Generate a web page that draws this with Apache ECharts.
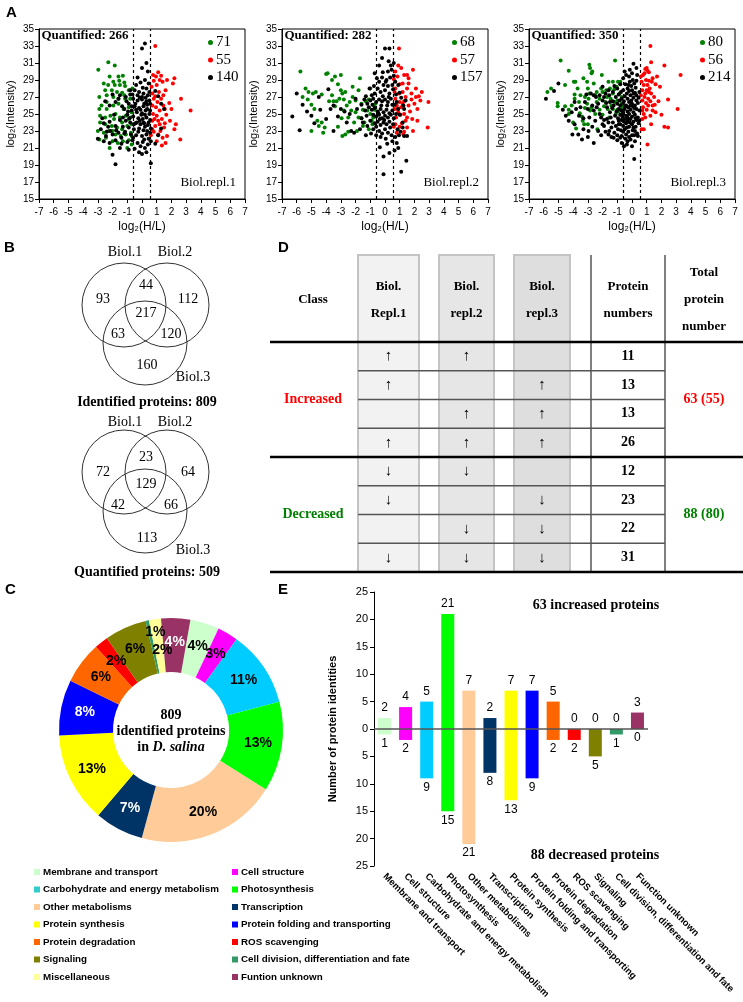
<!DOCTYPE html>
<html><head><meta charset="utf-8">
<script src="https://cdn.jsdelivr.net/npm/echarts/dist/echarts.min.js"></script>
<style>html,body{margin:0;padding:0;background:#fff}#c{width:743px;height:1002px}</style>
</head><body><div id="c"></div>
<script>
// ---------- Panel A data: log2(H/L), log2(Intensity) ----------
const scatterNames = [['71','55','140'],['68','57','157'],['80','56','214']];
const thresholds = [-0.585, 0.585];
const g1 = [[-2.97,30.2],[-2.29,31.1],[-1.85,30.7],[-2.2,29.4],[-1.6,29.4],[-1.3,29.5],[-1.95,28.8],[-1.55,28.9],[-1.2,28.7],[-2.6,28.6],[-2.3,28.4],[-1.85,28.4],[-1.5,28.4],[-1.15,28.3],[-2.5,27.8],[-2.05,27.8],[-1.7,27.6],[-1.35,27.5],[-0.9,27.8],[-2.9,27.0],[-2.4,27.2],[-1.95,27.0],[-1.6,26.8],[-1.15,26.8],[-0.8,26.8],[-2.75,26.0],[-2.4,25.6],[-1.95,26.0],[-1.6,26.2],[-1.25,25.6],[-0.9,25.8],[-2.85,24.8],[-2.5,24.6],[-2.15,24.8],[-1.8,25.0],[-1.5,24.6],[-1.1,24.8],[-0.8,24.6],[-2.85,24.0],[-2.5,23.8],[-2.05,23.6],[-1.7,23.4],[-1.35,23.2],[-1.0,23.6],[-0.7,23.8],[-3.0,23.0],[-2.6,22.8],[-2.25,23.0],[-1.8,22.6],[-1.45,22.4],[-1.1,22.6],[-0.75,22.8],[-2.9,22.0],[-2.45,22.2],[-2.0,21.8],[-1.65,21.6],[-1.3,21.8],[-0.9,21.9],[-2.2,21.0],[-1.0,21.0],[-0.7,21.4],[-0.7,22.4],[-1.35,24.0],[-0.9,24.4],[-0.7,25.2],[-1.9,24.4],[-2.4,26.4],[-2.9,25.6],[-1.2,27.2],[-0.65,28.0],[-2.0,23.0]];
const r1 = [[0.9,33.0],[0.75,29.6],[0.95,29.4],[1.1,29.9],[1.3,29.5],[1.2,29.0],[0.8,28.9],[1.4,28.8],[1.0,28.4],[0.7,27.4],[0.9,27.1],[1.15,27.6],[1.45,27.2],[0.8,26.8],[1.05,26.4],[1.3,26.8],[0.7,26.0],[0.95,25.8],[1.2,25.4],[1.55,25.6],[0.75,25.0],[1.0,24.8],[1.35,24.4],[1.65,24.9],[0.7,24.2],[0.9,23.6],[1.2,23.8],[1.5,23.4],[0.8,22.9],[1.1,22.6],[1.4,22.2],[1.7,22.4],[1.35,21.3],[0.6,22.5],[2.2,29.2],[2.1,28.6],[2.65,26.8],[3.3,25.4],[2.0,25.6],[2.3,23.8],[2.2,23.2],[2.6,22.0],[1.85,26.3],[1.9,24.2],[1.6,27.8],[1.7,29.0],[0.65,28.2],[1.45,26.0],[1.1,24.2],[0.85,24.4],[1.25,23.0],[1.55,23.9],[0.7,23.2],[1.0,21.8],[1.6,21.6]];
const k1 = [[0.2,33.3],[0.0,32.7],[0.3,31.0],[0.0,30.4],[0.4,30.0],[-0.3,29.3],[0.2,29.0],[0.45,28.6],[-0.5,27.8],[-0.2,27.6],[0.1,27.4],[0.4,27.2],[-0.8,27.3],[-1.1,27.0],[-1.5,27.2],[-2.0,27.3],[-2.5,26.5],[-2.2,26.0],[-1.8,26.4],[-0.6,26.8],[-0.3,26.6],[0.0,26.7],[0.3,26.5],[0.55,26.2],[-0.9,26.2],[-0.5,25.9],[-0.2,25.7],[0.1,25.9],[0.35,25.6],[-1.2,25.6],[-0.7,25.4],[-0.35,25.2],[0.0,25.1],[0.2,24.9],[0.5,25.0],[-1.0,24.9],[-0.6,24.7],[-0.25,24.5],[0.05,24.4],[0.3,24.6],[0.55,24.3],[-1.5,24.3],[-1.1,24.2],[-0.8,24.0],[-0.45,23.9],[-0.1,23.8],[0.15,23.9],[0.4,23.7],[-2.6,23.9],[-2.3,23.5],[-1.8,23.6],[-1.3,23.5],[-0.9,23.4],[-0.55,23.2],[-0.2,23.3],[0.1,23.1],[0.35,23.0],[0.6,23.3],[-2.8,23.2],[-2.4,22.9],[-2.0,22.6],[-1.6,22.8],[-1.2,22.7],[-0.75,22.6],[-0.4,22.5],[0.0,22.4],[0.3,22.6],[0.55,22.8],[1.1,22.5],[1.3,23.3],[1.5,25.6],[1.3,26.2],[1.1,27.1],[0.9,27.7],[-3.0,22.1],[-2.6,21.8],[-2.2,21.6],[-1.8,21.9],[-1.4,21.5],[-1.0,21.7],[-0.65,21.9],[-0.3,21.6],[0.05,21.7],[0.4,21.4],[-0.5,20.9],[-0.2,20.5],[0.0,20.3],[0.2,21.0],[-2.0,20.2],[-1.8,19.1],[0.6,19.2],[-1.5,21.0],[-0.9,20.8],[-0.35,24.0],[-0.05,24.9],[0.25,25.4],[-0.45,26.2],[-0.15,26.9],[0.15,26.2],[-0.7,25.9],[-0.95,25.3],[-1.35,25.9],[-1.6,26.8],[-1.9,24.9],[-2.2,24.1],[-0.8,27.8],[-0.4,28.4],[0.05,28.1],[-0.1,28.7],[0.3,28.0],[0.5,27.6],[0.45,24.0],[0.55,25.4],[-0.25,22.9],[-0.55,23.8],[-0.85,24.5],[-1.15,22.9],[-1.4,22.2],[-1.75,23.1],[-2.15,23.0],[-2.45,22.4],[0.2,23.5],[0.45,22.1],[0.6,21.8],[0.3,20.5],[-0.1,21.2],[-0.3,27.2],[0.0,27.0],[0.25,26.9],[-1.3,24.6],[-1.05,26.5],[-0.65,27.3],[-0.1,25.5],[0.1,24.0],[-0.4,25.5],[0.35,26.1],[-0.15,24.2],[0.5,26.6],[-0.6,22.2],[0.15,22.0],[-2.7,24.5],[0.9,21.5]];
const g2 = [[-5.75,30.0],[-5.4,28.0],[-5.6,27.0],[-5.2,27.6],[-4.9,27.4],[-4.7,27.6],[-5.25,26.7],[-5.0,26.1],[-5.0,23.0],[-4.5,23.6],[-4.3,24.0],[-4.2,22.8],[-4.1,23.4],[-4.0,29.7],[-3.9,29.8],[-3.6,29.0],[-3.4,29.4],[-3.0,29.6],[-3.2,28.5],[-3.5,26.5],[-3.3,26.5],[-3.0,27.8],[-2.9,27.4],[-3.1,26.8],[-2.8,26.7],[-2.95,24.5],[-3.2,23.5],[-2.9,22.4],[-2.7,22.6],[-2.5,22.9],[-2.6,26.0],[-2.4,26.4],[-2.2,27.0],[-2.0,26.6],[-2.3,25.4],[-2.0,25.2],[-1.8,24.6],[-1.6,24.5],[-1.9,23.0],[-1.7,29.2],[-1.5,25.5],[-1.3,26.5],[-1.1,26.7],[-1.2,25.4],[-1.0,25.0],[-0.9,24.2],[-1.1,23.2],[-0.85,23.8],[-0.7,25.5],[-0.65,26.2],[-1.4,24.0],[-1.6,26.2],[-2.1,24.0],[-2.5,24.6],[-3.8,26.5],[-4.6,24.2],[-4.8,25.6],[-2.7,27.6],[-1.0,28.0],[-0.75,26.0],[-3.6,27.2],[-3.4,25.9],[-2.2,28.2],[-1.8,27.8],[-4.3,27.3],[-1.5,23.6],[-0.8,24.6],[-2.8,25.4]];
const r2 = [[0.95,32.7],[0.9,30.7],[1.1,30.4],[0.6,29.1],[0.85,29.4],[1.3,29.6],[1.5,29.6],[1.6,29.2],[1.9,30.2],[1.2,28.6],[0.7,28.0],[0.95,27.4],[1.2,27.6],[1.5,28.0],[1.8,27.4],[2.1,27.0],[2.5,27.6],[2.3,27.1],[2.95,26.4],[0.7,26.8],[1.0,26.4],[1.3,26.5],[1.6,26.0],[0.8,26.0],[1.1,25.8],[0.65,25.6],[0.9,25.2],[1.3,25.0],[2.0,26.2],[2.2,25.6],[1.5,24.6],[1.85,24.4],[2.2,24.2],[1.4,24.2],[0.7,23.8],[1.0,23.5],[1.3,22.9],[1.5,23.4],[0.8,22.8],[2.9,23.4],[1.9,23.0],[0.75,24.6],[1.05,24.9],[0.6,23.5],[1.7,25.3],[1.2,26.2],[2.4,26.6],[0.65,27.6],[1.0,28.5],[1.4,27.0],[0.85,25.6],[1.15,23.9],[1.6,28.6],[2.1,28.0],[0.7,30.0],[1.25,22.6],[1.8,26.7]];
const k2 = [[-6.3,24.7],[-6.0,27.4],[-5.8,23.1],[-5.6,26.1],[-5.3,25.3],[-4.8,23.9],[-4.4,25.5],[-3.85,27.9],[-3.7,25.6],[-3.5,26.0],[-3.5,23.0],[-3.0,25.6],[-2.75,25.3],[-2.3,23.0],[-2.1,22.8],[-1.9,25.6],[-1.6,24.5],[-1.3,22.5],[-0.1,17.9],[-0.1,20.0],[0.0,32.7],[0.3,32.7],[-0.4,30.7],[0.4,30.7],[1.45,19.5],[1.1,18.2],[0.9,21.0],[0.65,20.7],[1.3,22.4],[1.5,22.4],[-1.4,26.7],[-1.2,26.2],[-1.0,26.6],[-0.8,26.8],[-0.6,26.4],[-0.4,26.7],[-0.2,26.5],[0.0,26.7],[0.2,26.4],[0.4,26.8],[-1.1,25.8],[-0.9,25.5],[-0.7,25.7],[-0.5,25.3],[-0.3,25.6],[-0.1,25.2],[0.1,25.5],[0.3,25.1],[0.5,25.4],[-0.8,24.9],[-0.6,24.7],[-0.4,24.9],[-0.2,24.5],[0.0,24.8],[0.2,24.6],[0.4,24.9],[0.6,24.5],[-1.0,24.2],[-0.7,23.9],[-0.5,24.1],[-0.3,23.7],[-0.1,24.0],[0.1,23.8],[0.3,24.1],[0.55,23.8],[-1.2,23.6],[-0.8,23.2],[-0.4,23.0],[-0.2,22.7],[0.0,23.2],[0.2,22.8],[0.45,22.5],[-0.3,22.3],[0.05,22.1],[0.5,21.8],[0.7,22.3],[0.8,21.6],[-0.4,28.8],[-0.2,29.3],[0.1,29.0],[0.35,29.3],[0.5,28.4],[-0.5,28.0],[-0.3,27.6],[0.0,27.8],[0.3,27.4],[0.55,27.9],[-0.7,27.4],[-0.9,27.2],[0.2,28.3],[-0.1,28.4],[0.45,30.2],[0.2,30.0],[-0.15,29.9],[0.6,29.5],[0.7,28.8],[0.75,27.3],[0.8,26.4],[0.9,25.6],[1.0,24.9],[1.2,24.0],[1.3,25.6],[1.4,26.6],[1.1,26.9],[0.85,23.2],[1.05,22.9],[1.2,23.4],[-1.5,24.0],[-1.7,23.2],[-1.3,27.1],[-1.6,26.1],[-2.0,26.8],[-2.4,25.0],[-2.6,24.0],[-3.2,24.7],[-4.0,24.4],[-4.5,27.0],[-5.0,24.8],[-0.95,22.7],[-0.6,22.5],[-0.75,28.3],[-1.05,28.0],[-0.55,29.2],[0.65,26.1],[0.75,25.0],[-0.25,26.0],[0.15,26.0],[-0.45,25.1],[-0.05,24.3],[0.35,23.4],[-0.6,23.5],[-0.85,26.1],[0.25,27.0],[-0.15,27.1],[0.05,28.8],[-0.35,24.4],[0.5,26.1],[-1.25,24.8],[-1.35,25.4],[0.15,21.5],[-0.35,21.1],[0.3,20.4],[0.95,22.5],[1.25,26.0],[1.0,27.5],[0.9,28.4],[-0.7,29.8],[0.25,31.2],[-0.2,31.6],[0.6,31.0]];
const g3 = [[-5.75,27.6],[-5.5,28.0],[-4.85,31.3],[-5.05,26.3],[-5.05,25.9],[-4.55,25.9],[-4.3,25.5],[-4.3,25.0],[-4.3,30.1],[-3.95,28.8],[-3.85,28.8],[-3.9,27.3],[-3.9,26.8],[-3.7,28.0],[-3.8,23.3],[-3.55,25.1],[-3.4,24.7],[-3.35,24.2],[-3.25,23.8],[-3.05,28.8],[-2.9,30.8],[-2.85,30.4],[-2.7,30.0],[-2.75,29.8],[-3.0,28.0],[-2.9,27.4],[-2.95,26.8],[-3.05,26.2],[-3.2,25.7],[-2.85,25.4],[-2.5,27.2],[-2.4,27.6],[-2.1,28.0],[-2.0,27.6],[-2.2,26.8],[-2.4,26.4],[-2.75,25.8],[-2.5,25.0],[-1.8,26.4],[-1.7,27.0],[-1.5,28.0],[-1.6,28.8],[-1.3,28.8],[-0.95,28.8],[-1.05,28.2],[-1.3,27.4],[-1.45,26.8],[-1.2,26.4],[-0.85,27.4],[-1.65,25.6],[-1.3,25.6],[-1.0,25.5],[-0.75,25.6],[-0.6,25.9],[-1.15,31.3],[-0.8,28.8],[-0.7,26.2],[-0.9,25.3],[-1.1,25.0],[-1.4,26.0],[-1.9,25.9],[-2.2,25.5],[-3.6,26.4],[-4.0,24.0],[-3.2,27.0],[-2.0,24.9],[-1.75,27.8],[-2.6,28.6],[-4.55,28.4],[-3.5,27.2],[-0.7,27.0],[-1.55,24.6],[-2.35,23.2],[-3.0,23.8],[-0.65,24.4],[-1.0,26.6],[-4.1,26.0],[-3.3,29.2],[-2.05,29.6],[-1.2,27.9]];
const r3 = [[1.25,33.0],[1.3,31.1],[0.9,30.3],[1.05,30.1],[1.15,29.9],[1.0,30.4],[2.2,30.7],[0.75,29.6],[0.6,29.4],[1.4,29.2],[1.15,28.9],[1.35,28.8],[1.6,28.5],[0.8,28.4],[1.05,28.4],[3.3,29.6],[0.7,27.8],[0.9,27.4],[1.15,27.6],[1.3,27.4],[0.6,27.2],[0.85,27.0],[1.1,26.8],[0.7,26.6],[0.95,26.3],[1.25,26.5],[1.55,26.1],[2.45,26.7],[1.8,26.5],[0.75,25.8],[1.0,25.5],[1.4,25.4],[1.6,25.2],[3.1,25.6],[2.0,24.9],[0.7,24.4],[0.8,23.2],[2.2,23.5],[2.45,23.4],[1.05,21.4],[0.65,23.2],[1.2,28.0],[0.95,29.0],[1.4,26.0],[1.0,27.8],[0.8,25.0],[1.25,24.8],[0.65,28.8],[1.5,27.0],[0.85,29.8],[1.7,29.4],[1.1,26.0],[0.7,25.4],[1.3,23.8],[0.9,24.6],[1.9,28.2]];
const k3 = [[-5.85,26.8],[-5.0,28.6],[-4.1,25.2],[-4.05,22.6],[-3.9,26.4],[-3.65,22.6],[-3.3,23.2],[-2.95,23.0],[-2.6,21.6],[-2.3,23.0],[0.1,30.9],[0.15,19.7],[-0.55,21.2],[-0.35,21.4],[-4.3,24.2],[-3.9,23.8],[-3.5,25.8],[-3.2,26.4],[-3.0,25.6],[-2.8,27.4],[-2.6,27.2],[-2.7,26.0],[-2.4,25.8],[-2.2,27.2],[-2.0,26.6],[-1.8,27.4],[-2.5,24.2],[-2.1,24.6],[-1.9,23.6],[-1.7,24.4],[-1.5,25.2],[-1.3,24.0],[-1.1,23.6],[-1.6,22.6],[-1.4,22.3],[-1.2,22.8],[-1.0,22.5],[-0.8,22.2],[-0.6,22.9],[-0.4,22.6],[-0.2,22.3],[0.0,22.5],[0.2,23.0],[-1.5,26.4],[-1.25,26.0],[-1.0,26.2],[-0.8,26.0],[-0.6,26.3],[-0.4,26.0],[-0.2,26.4],[0.0,26.2],[0.2,26.0],[0.4,26.3],[-0.9,25.6],[-0.7,25.4],[-0.5,25.6],[-0.3,25.3],[-0.1,25.5],[0.1,25.2],[0.3,25.6],[-0.8,24.9],[-0.6,25.0],[-0.4,24.8],[-0.2,25.0],[0.0,24.7],[0.2,24.9],[0.4,24.6],[-0.7,24.3],[-0.5,24.4],[-0.3,24.2],[-0.1,24.4],[0.1,24.1],[0.3,24.3],[-0.9,23.8],[-0.6,23.6],[-0.4,23.9],[-0.2,23.5],[0.0,23.8],[0.25,23.5],[0.45,23.9],[-0.75,23.1],[-0.5,23.2],[-0.25,22.9],[0.05,23.1],[-1.1,27.0],[-0.9,27.3],[-0.7,26.8],[-0.5,27.1],[-0.3,26.8],[-0.1,27.2],[0.1,26.9],[0.3,27.2],[-0.6,27.8],[-0.3,28.0],[0.0,27.8],[0.25,28.1],[-0.45,28.5],[-0.15,28.8],[0.15,28.6],[-0.6,29.2],[-0.2,29.4],[0.05,29.0],[-0.4,29.6],[0.3,28.9],[-1.3,27.6],[-1.6,27.8],[-2.0,28.2],[-1.0,28.0],[-1.4,23.4],[-1.8,22.9],[-2.0,23.8],[-1.15,24.8],[-1.35,25.7],[-1.7,25.8],[-2.2,25.0],[-2.9,24.6],[-3.3,24.5],[-3.6,24.8],[-3.8,25.6],[-1.6,24.0],[-0.95,24.5],[0.35,22.7],[-0.1,22.0],[0.2,21.8],[-0.3,21.8],[-0.7,21.6],[-1.0,21.9],[0.5,24.2],[0.5,25.4],[0.45,26.9],[0.5,27.6],[0.35,29.6],[0.0,29.8],[-0.8,28.5],[-1.2,28.3],[-0.05,26.6],[-0.25,25.8],[-0.45,25.9],[0.15,25.7],[-0.65,24.7],[-0.15,24.0],[0.05,25.9],[-0.35,27.4],[-0.55,26.5],[-0.85,26.6],[0.2,27.5],[-0.05,28.3],[-0.95,23.2],[-0.35,23.4],[0.15,22.5],[-1.9,27.0],[-2.3,26.2],[-2.45,27.0],[-3.1,27.3],[-1.25,22.2],[-1.55,23.0],[-0.15,30.2],[-0.5,30.0],[0.3,30.4],[-1.05,25.3],[-1.45,24.6],[-1.9,24.3],[-2.7,23.5],[-0.7,22.4],[-1.75,26.3],[-2.6,25.4],[0.4,22.4],[0.0,21.2],[-0.55,24.1],[0.3,26.6],[-0.75,27.6],[-1.55,27.2],[-0.25,28.4],[0.1,27.4],[-0.9,24.2],[-0.45,22.1],[0.1,23.4],[-0.1,26.0],[-0.3,24.6],[-0.6,25.2],[0.25,24.5],[-0.2,27.7],[-0.8,23.8],[-1.3,26.5],[-2.1,22.5],[-3.0,22.3],[-4.5,24.8],[-4.7,25.5],[-5.3,27.7],[-3.4,22.0]];
const quantified = [266, 282, 350];
const replLabels = ['Biol.repl.1','Biol.repl.2','Biol.repl.3'];

// ---------- Panel B data ----------
const vennSetNames = ['Biol.1','Biol.2','Biol.3'];
// order: only1, only2, only3, 1&2, 1&3, 2&3, all
const venn1Counts = [93, 112, 160, 44, 63, 120, 217];
const venn2Counts = [72, 64, 113, 23, 42, 66, 129];
const vennTitles = ['Identified proteins: 809', 'Quantified proteins: 509'];

// ---------- Panel C data ----------
const pieNames = ['Membrane and transport','Cell structure','Carbohydrate and energy metabolism','Photosynthesis','Other metabolisms','Transcription','Protein synthesis','Protein folding and transporting','Protein degradation','ROS scavenging','Signaling','Cell division, differentiation and fate','Miscellaneous','Funtion unknown'];
const pieValues = [34, 24, 89, 105, 164, 57, 105, 65, 49, 16, 49, 4, 14, 34];
const pieLabels = ['4%','3%','11%','13%','20%','7%','13%','8%','6%','2%','6%','1%','2%','4%'];
const pieColors = ['#ccffcc','#ff00ff','#00ccff','#00ff00','#ffcc99','#003366','#ffff00','#0000ff','#ff6600','#ff0000','#808000','#339966','#ffff99','#993366'];
const pieLabelColors = ['#000','#000','#000','#000','#000','#fff','#000','#fff','#000','#000','#000','#000','#000','#fff'];

// ---------- Panel D data ----------
const tblHeaders = ['Class','Biol.\nRepl.1','Biol.\nrepl.2','Biol.\nrepl.3','Protein\nnumbers','Total\nprotein\nnumber'];
const incPattern = [[1,1,0],[1,0,1],[0,1,1],[1,1,1]];
const incCounts = [11, 13, 13, 26];
const decPattern = [[1,1,0],[1,0,1],[0,1,1],[1,1,1]];
const decCounts = [12, 23, 22, 31];
const classNames = ['Increased','Decreased'];
const classTotals = ['63 (55)','88 (80)'];

// ---------- Panel E data ----------
const barCats = ['Membrane and transport','Cell structure','Carbohydrate and energy metabolism','Photosynthesis','Other metabolisms','Transcription','Protein synthesis','Protein folding and transporting','Protein degradation','ROS scavenging','Signaling','Cell division, differentiation and fate','Function unknown'];
const incValues = [2, 4, 5, 21, 7, 2, 7, 7, 5, 0, 0, 0, 3];
const decValues = [1, 2, 9, 15, 21, 8, 13, 9, 2, 2, 5, 1, 0];
const barColors = ['#ccffcc','#ff00ff','#00ccff','#00ff00','#ffcc99','#003366','#ffff00','#0000ff','#ff6600','#ff0000','#808000','#339966','#993366'];
const yTicksE = [25,20,15,10,5,0,5,10,15,20,25];

// =====================================================
const SANS = '"Liberation Sans", Arial, sans-serif';
const SERIF = '"Liberation Serif", "Times New Roman", serif';
const G = [];
function txt(x, y, text, font, fill, align, valign, extra) {
  const st = {text: String(text), font: font, fill: fill || '#000',
    align: align || 'center', verticalAlign: valign || 'middle',
    textAlign: align || 'center', textVerticalAlign: valign || 'middle'};
  if (extra) Object.assign(st, extra);
  G.push({type: 'text', x: x, y: y, silent: true, z: 100, style: st});
}
function line(x1, y1, x2, y2, stroke, w, z) {
  G.push({type: 'line', silent: true, z: z || 50, shape: {x1, y1, x2, y2}, style: {stroke: stroke, lineWidth: w}});
}
function rect(x, y, w, h, fill, stroke, lw, z) {
  G.push({type: 'rect', silent: true, z: z || 10, shape: {x, y, width: w, height: h}, style: {fill: fill, stroke: stroke || null, lineWidth: lw || 0}});
}

// panel letters
const LF = 'bold 15px ' + SANS;
txt(6, 13, 'A', LF, '#000', 'left');
txt(4, 248, 'B', LF, '#000', 'left');
txt(5, 590, 'C', LF, '#000', 'left');
txt(278, 248, 'D', LF, '#000', 'left');
txt(278, 590, 'E', LF, '#000', 'left');

// ---------- Panel A layout ----------
const gridLefts = [39, 282, 529];
const GT = 29, GW = 206, GH = 170;
const scatterSets = [[g1, r1, k1], [g2, r2, k2], [g3, r3, k3]];
const dotColors = ['#008000', '#ff0000', '#000000'];
gridLefts.forEach((L, i) => {
  txt(L + 2.5, 36, 'Quantified: ' + quantified[i], 'bold 13px ' + SERIF, '#000', 'left');
  txt(L + GW - 9, 183, replLabels[i], '13px ' + SERIF, '#000', 'right');
});

// ---------- Panel B (Venn) ----------
const vennDefs = [
  {counts: venn1Counts, title: vennTitles[0],
   circles: [[124,305],[167,305],[145,343]],
   pos: [[103,299],[188,299],[147,365],[146,285],[118,334],[171,334],[146,313]],
   names: [[125,252],[175,252],[193,377]], titlePos: [147,402]},
  {counts: venn2Counts, title: vennTitles[1],
   circles: [[124,472],[167,472],[145,511]],
   pos: [[103,472],[188,472],[147,538],[146,457],[118,505],[171,505],[146,484]],
   names: [[125,422],[175,422],[193,550]], titlePos: [147,572]}
];
vennDefs.forEach(v => {
  v.circles.forEach(c => G.push({type:'circle', silent:true, z:20, shape:{cx:c[0], cy:c[1], r:42}, style:{fill:'none', stroke:'#333', lineWidth:1}}));
  v.counts.forEach((n, i) => txt(v.pos[i][0], v.pos[i][1], n, '14px ' + SERIF));
  vennSetNames.forEach((n, i) => txt(v.names[i][0], v.names[i][1], n, '14px ' + SERIF));
  txt(v.titlePos[0], v.titlePos[1], v.title, 'bold 14px ' + SERIF);
});

// ---------- Panel C center text ----------
G.push({type:'text', x:171, y:731, silent:true, z:100, style:{
  text:'{b|809}\n{b|identified proteins}\n{b|in }{i|D. salina}',
  align:'center', verticalAlign:'middle', textAlign:'center', textVerticalAlign:'middle',
  rich:{b:{fontFamily:SERIF, fontWeight:'bold', fontSize:14, lineHeight:16, fill:'#000', color:'#000'},
        i:{fontFamily:SERIF, fontWeight:'bold', fontStyle:'italic', fontSize:14, lineHeight:16, fill:'#000', color:'#000'}}
}});

// ---------- Panel D (table) ----------
const colBoxes = [[358,419,'#f2f2f2'],[439,494,'#e6e6e6'],[514,570,'#dedede']];
const TT = 255, HB = 342, MID = 457, TB = 572, RH = 28.75;
colBoxes.forEach(b => rect(b[0], TT, b[1]-b[0], TB-TT, b[2], '#c4c4c4', 2, 10));
line(591, TT, 591, TB, '#555', 1.5);
line(665, TT, 665, TB, '#555', 1.5);
const colCenters = [313, 388.5, 466.5, 542, 628, 704];
const HF = 'bold 13px ' + SERIF;
tblHeaders.forEach((h, i) => txt(colCenters[i], 300, h, HF, '#000', 'center', 'middle', {lineHeight: 27}));
[HB, MID, TB].forEach(y => line(270, y, 743, y, '#000', 2.5, 60));
[[HB, incPattern, incCounts], [MID, decPattern, decCounts]].forEach((blk, bi) => {
  const y0 = blk[0];
  for (let r = 1; r < 4; r++) line(358, y0 + r*RH, 665, y0 + r*RH, '#555', 1.5, 55);
  blk[1].forEach((pat, r) => {
    const yc = y0 + (r + 0.5) * RH;
    pat.forEach((on, c) => { if (on) txt(colCenters[c+1], yc, bi === 0 ? '↑' : '↓', '15px ' + SERIF); });
    txt(colCenters[4], yc, blk[2][r], 'bold 14px ' + SERIF);
  });
  const col = bi === 0 ? '#ff0000' : '#008000';
  txt(colCenters[0], y0 + 2*RH, classNames[bi], 'bold 14px ' + SERIF, col);
  txt(colCenters[5], y0 + 2*RH, classTotals[bi], 'bold 14px ' + SERIF, col);
});

// ---------- Panel E texts ----------
txt(596, 605, '63 increased proteins', 'bold 14px ' + SERIF);
txt(595, 855, '88 decreased proteins', 'bold 14px ' + SERIF);

// =====================================================
const grids = gridLefts.map(L => ({left: L, top: GT, width: GW, height: GH, show: true, borderColor: '#000', borderWidth: 1, backgroundColor: 'transparent', outerBoundsMode: 'none'}));
grids.push({left: 374, top: 592, width: 274, height: 274, outerBoundsMode: 'none'});

const axisCommon = {
  axisLine: {show: true, onZero: false, lineStyle: {color: '#000', width: 1}},
  axisTick: {show: true, inside: false, length: 4, lineStyle: {color: '#000'}},
  splitLine: {show: false}
};
const xAxes = gridLefts.map((L, i) => Object.assign({}, axisCommon, {
  type: 'value', gridIndex: i, min: -7, max: 7, interval: 1,
  axisLabel: {fontSize: 10, color: '#000', fontFamily: SANS, margin: 8, showMinLabel: true, showMaxLabel: true},
  name: 'log₂(H/L)', nameLocation: 'middle', nameGap: 22,
  nameTextStyle: {fontSize: 12, color: '#000', fontFamily: SANS}
}));
const yAxes = gridLefts.map((L, i) => Object.assign({}, axisCommon, {
  type: 'value', gridIndex: i, min: 15, max: 35, interval: 2,
  axisLabel: {fontSize: 10, color: '#000', fontFamily: SANS, margin: 5, showMinLabel: true, showMaxLabel: true},
  name: 'log₂(Intensity)', nameLocation: 'middle', nameGap: 23, nameRotate: 90,
  nameTextStyle: {fontSize: 11, color: '#000', fontFamily: SANS}
}));
xAxes.push({
  type: 'category', gridIndex: 3, data: barCats,
  axisLine: {show: false, onZero: false}, axisTick: {show: false}, splitLine: {show: false},
  axisLabel: {interval: 0, rotate: -45, fontSize: 9.5, fontWeight: 'bold', color: '#000', fontFamily: SANS, margin: 9}
});
yAxes.push({
  type: 'value', gridIndex: 3, min: -25, max: 25, interval: 5,
  axisLine: {show: true, onZero: false, lineStyle: {color: '#000', width: 1}},
  axisTick: {show: true, inside: false, length: 4, lineStyle: {color: '#000'}},
  splitLine: {show: false},
  axisLabel: {fontSize: 11, color: '#000', fontFamily: SANS, margin: 6, showMinLabel: true, showMaxLabel: true,
    formatter: v => String(yTicksE[Math.round((25 - v) / 5)])},
  name: 'Number of protein identities', nameLocation: 'middle', nameRotate: 90, nameGap: 36,
  nameTextStyle: {fontSize: 11, fontWeight: 'bold', color: '#000', fontFamily: SANS}
});

const series = [];
scatterSets.forEach((sets, gi) => {
  sets.forEach((pts, si) => {
    const s = {type: 'scatter', name: scatterNames[gi][si], xAxisIndex: gi, yAxisIndex: gi,
      data: pts, symbol: 'circle', symbolSize: 4, itemStyle: {color: dotColors[si], opacity: 1},
      emphasis: {disabled: true}, silent: true, z: 5};
    if (si === 2) {
      s.markLine = {silent: true, symbol: ['none','none'], label: {show: false},
        lineStyle: {color: '#000', width: 1.2, type: [3, 3]},
        data: thresholds.map(t => ({xAxis: t}))};
    }
    series.push(s);
  });
});

series.push({
  type: 'pie', name: 'classes', center: [171, 730], radius: [58, 112], startAngle: 80, clockwise: true,
  avoidLabelOverlap: false, silent: true, emphasis: {disabled: true},
  data: pieNames.map((n, i) => ({name: n, value: pieValues[i], itemStyle: {color: pieColors[i]},
    label: {color: pieLabelColors[i]}})),
  label: {show: true, position: 'inside', formatter: p => pieLabels[p.dataIndex],
    fontSize: 14, fontWeight: 'bold', fontFamily: SANS},
  labelLine: {show: false},
  labelLayout: p => {
    if (p.dataIndex === 11) return {dx: 3, dy: -12};
    if (p.dataIndex === 12) return {dx: 4, dy: 7};
    return {};
  }
});

series.push({
  type: 'bar', name: 'increased', xAxisIndex: 3, yAxisIndex: 3, barWidth: 13, barGap: '-100%',
  silent: true, emphasis: {disabled: true},
  data: incValues.map((v, i) => ({value: v, itemStyle: {color: barColors[i]}})),
  label: {show: true, position: 'top', distance: 4, fontSize: 12, color: '#000', fontFamily: SANS},
  markLine: {silent: true, symbol: ['none','none'], label: {show: false},
    lineStyle: {color: '#555', width: 1.5, type: 'solid'}, data: [{yAxis: 0}]},
  z: 3
});
series.push({
  type: 'bar', name: 'decreased', xAxisIndex: 3, yAxisIndex: 3, barWidth: 13, barGap: '-100%',
  silent: true, emphasis: {disabled: true},
  data: decValues.map((v, i) => ({value: -v, itemStyle: {color: barColors[i]}})),
  label: {show: true, position: 'bottom', distance: 3, fontSize: 12, color: '#000', fontFamily: SANS,
    formatter: p => String(decValues[p.dataIndex])},
  z: 3
});

const scLegendLefts = [208, 452, 700];
const legends = scatterNames.map((names, i) => ({
  data: names, orient: 'vertical', left: scLegendLefts[i], top: 35, padding: 0, icon: 'circle',
  itemWidth: 5, itemHeight: 5, itemGap: 2.5, selectedMode: false,
  textStyle: {fontFamily: SERIF, fontSize: 15, color: '#000', lineHeight: 14, padding: [0, 0, 0, -2]}
}));
const leftCol = pieNames.filter((n, i) => i % 2 === 0);
const rightCol = pieNames.filter((n, i) => i % 2 === 1);
const legendItem = n => n === pieNames[2] ? {name: n, itemStyle: {color: '#33cccc'}} : {name: n};
[[leftCol, 34], [rightCol, 232]].forEach(([names, L]) => legends.push({
  data: names.map(legendItem), orient: 'vertical', left: L, top: 866, padding: 0, icon: 'rect',
  itemWidth: 6, itemHeight: 6, itemGap: 5.5, selectedMode: false,
  textStyle: {fontFamily: SANS, fontSize: 9.8, fontWeight: 'bold', color: '#000', lineHeight: 12, padding: [0, 0, 0, -2]}
}));

const chart = echarts.init(document.getElementById('c'), null, {renderer: 'canvas'});
chart.setOption({
  animation: false,
  backgroundColor: '#fff',
  textStyle: {fontFamily: SANS},
  grid: grids, xAxis: xAxes, yAxis: yAxes,
  legend: legends,
  series: series,
  graphic: {elements: G}
});
</script></body></html>
